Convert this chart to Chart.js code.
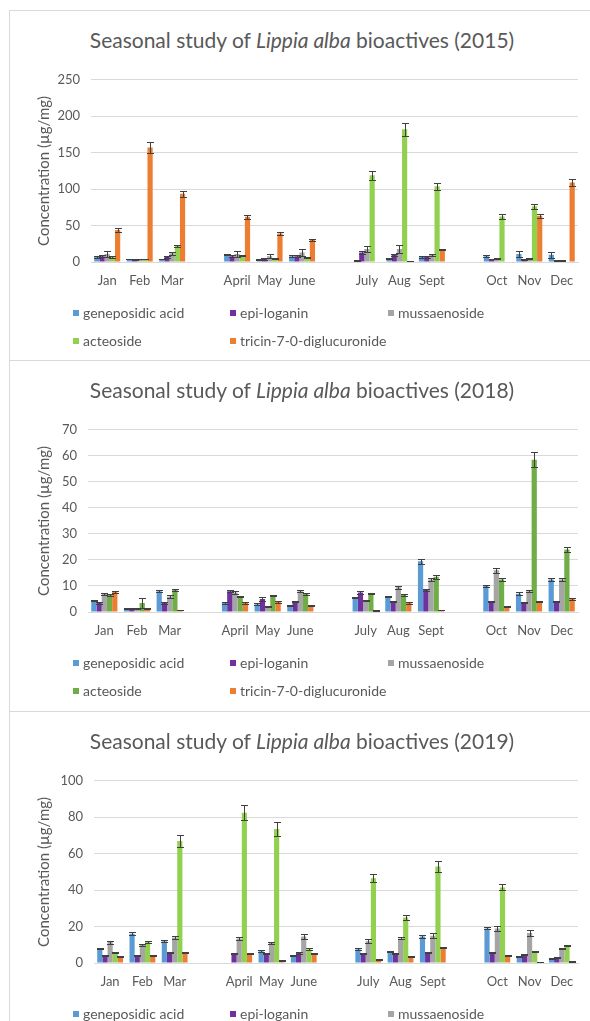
<!DOCTYPE html>
<html>
<head>
<meta charset="utf-8">
<script src="https://cdn.jsdelivr.net/npm/chart.js@4.4.1/dist/chart.umd.min.js"></script>
<style>
  html, body { margin: 0; padding: 0; width: 590px; height: 1021px; overflow: hidden; background: #fff; font-family: Lato, "Open Sans", sans-serif; }
  .panel { position: absolute; left: 9px; width: 640px; height: 350px; border-top: 1px solid #d9d9d9; border-left: 1px solid #d9d9d9; }
  .title { position: absolute; left: 0; top: 16px; width: 584px; text-align: center; font-size: 21px; line-height: 26px; color: #595959; white-space: nowrap; }
  .panel canvas { position: absolute; left: 0; top: 50px; }
  .legend { position: absolute; left: 0; top: 0; width: 580px; height: 350px; }
  .item { position: absolute; font-size: 14px; line-height: 16px; color: #595959; white-space: nowrap; }
  .item span { position: absolute; left: -10px; top: 5px; width: 6px; height: 6px; }
</style>
</head>
<body>
<div class="panel" id="p2015" style="top:10px"></div>
<div class="panel" id="p2018" style="top:360px"></div>
<div class="panel" id="p2019" style="top:711px"></div>
<script>
// Month axis: three months per season, with an empty slot between seasons
const months = ['Jan', 'Feb', 'Mar', 'April', 'May', 'June', 'July', 'Aug', 'Sept', 'Oct', 'Nov', 'Dec'];
const compounds = ['geneposidic acid', 'epi-loganin', 'mussaenoside', 'acteoside', 'tricin-7-0-diglucuronide'];

// 2015 concentrations (µg/mg) and standard deviations
const gen2015 = [7, 4, 4, 10, 3, 8, 2, 5, 7, 8, 11, 10];
const genErr2015 = [1, 0.5, 0.5, 1, 0.5, 1, 0.5, 1, 1, 1, 4, 4];
const epi2015 = [8, 3, 7, 8, 4, 8, 13, 10, 7, 4, 3, 2];
const epiErr2015 = [1.5, 0.5, 1, 1, 1, 1, 2, 1.5, 1, 0.5, 0.5, 0.5];
const mus2015 = [11, 4, 12, 11, 8, 13, 18, 18, 10, 5, 5, 2];
const musErr2015 = [3.5, 0.5, 2, 3.5, 3, 4.5, 4, 5, 1.5, 1, 1, 0.5];
const act2015 = [7, 4, 22, 9, 5, 6, 119, 182, 104, 62.5, 76.5, 0];
const actErr2015 = [1, 0.5, 2, 1, 1, 1, 6, 8.5, 5, 3, 3.5, 0];
const tri2015 = [44, 157, 93.5, 62, 39, 30.5, 0, 1, 17, 0, 63.5, 109];
const triErr2015 = [3, 8, 4.5, 2.5, 1.5, 1, 0, 0.5, 1, 0, 2.5, 5];

// 2018 concentrations (µg/mg) and standard deviations
const gen2018 = [4.5, 1.5, 8, 3.5, 3, 2.5, 5.5, 6, 19.5, 10, 7, 12.5];
const genErr2018 = [0.3, 0.2, 0.4, 0.3, 0.3, 0.3, 0.3, 0.3, 0.9, 0.3, 0.5, 0.4];
const epi2018 = [3.5, 1.5, 3.5, 8, 5, 4, 7.5, 4, 8.5, 4, 3.5, 4];
const epiErr2018 = [0.3, 0.2, 0.3, 0.3, 0.7, 0.3, 0.5, 0.2, 0.4, 0.2, 0.2, 0.2];
const mus2018 = [7, 1.5, 6, 7.5, 2, 8, 4.5, 9.5, 12.5, 16, 8, 12.5];
const musErr2018 = [0.4, 0.2, 0.5, 0.4, 0.2, 0.4, 0.3, 0.5, 0.5, 0.9, 0.4, 0.4];
const act2018 = [6.5, 3.5, 8.5, 6, 6.3, 7, 7, 6.5, 13.5, 12.5, 58.5, 24];
const actErr2018 = [0.4, 2, 0.4, 0.3, 0.3, 0.4, 0.2, 0.3, 0.8, 0.6, 2.9, 0.9];
const tri2018 = [7.8, 1.5, 0.7, 3.5, 3.8, 2.5, 0.5, 3.5, 0.8, 2, 4, 5];
const triErr2018 = [0.4, 0.2, 0.1, 0.3, 0.3, 0.2, 0.1, 0.3, 0.1, 0.2, 0.3, 0.3];

// 2019 concentrations (µg/mg) and standard deviations
const gen2019 = [8, 16, 12, 0, 6.5, 4, 7.5, 6.5, 14.5, 19, 3.5, 2.5];
const genErr2019 = [0.5, 0.8, 0.5, 0, 0.4, 0.3, 0.6, 0.3, 0.7, 0.6, 0.3, 0.3];
const epi2019 = [4.3, 4, 6, 5, 5, 5.5, 5.2, 5, 5.7, 6, 4.9, 2.8];
const epiErr2019 = [0.3, 0.3, 0.3, 0.3, 0.3, 0.3, 0.3, 0.3, 0.3, 0.3, 0.3, 0.3];
const mus2019 = [11.5, 10, 14, 13.5, 11, 14.5, 12, 13.5, 15, 19, 16.5, 8];
const musErr2019 = [0.8, 0.5, 0.8, 0.8, 0.8, 1.2, 1, 0.6, 1.2, 1.2, 1.8, 0.3];
const act2019 = [6, 11.5, 67, 82.5, 73.5, 7.5, 46.5, 25, 53, 41.5, 6.3, 9.5];
const actErr2019 = [0.3, 0.7, 3.2, 4, 3.8, 0.5, 2.3, 1.2, 2.9, 1.7, 0.3, 0.4];
const tri2019 = [3.5, 4, 6, 5.4, 1.5, 5.4, 2, 3.5, 8.7, 4, 0.5, 0.9];
const triErr2019 = [0.3, 0.3, 0.3, 0.3, 0.3, 0.3, 0.3, 0.3, 0.3, 0.3, 0.3, 0.3];

// Y-axis ranges
const yTicks2015 = { max: 250, step: 50 };
const yTicks2018 = { max: 70, step: 10 };
const yTicks2019 = { max: 100, step: 20 };

// Insert an empty slot after every third month
function withGaps(arr, filler) {
  const out = [];
  arr.forEach((v, i) => {
    out.push(v);
    if (i % 3 === 2 && i < arr.length - 1) out.push(filler);
  });
  return out;
}

const slotLabels = withGaps(months, '');
const TEXT = '#595959';
const GRID = '#d9d9d9';
const FONT = 'Lato, "Open Sans", sans-serif';

// Draws symmetric standard-deviation whiskers on each bar
const errorBars = {
  id: 'errorBars',
  afterDatasetsDraw(chart) {
    const { ctx, chartArea } = chart;
    const ys = chart.scales.y;
    ctx.save();
    ctx.beginPath();
    ctx.rect(chartArea.left, chartArea.top - 6, chartArea.right - chartArea.left, chartArea.bottom - chartArea.top + 6);
    ctx.clip();
    ctx.strokeStyle = '#404040';
    ctx.lineWidth = 1;
    chart.data.datasets.forEach((ds, di) => {
      const meta = chart.getDatasetMeta(di);
      meta.data.forEach((bar, i) => {
        const v = ds.data[i];
        const e = ds.errors[i];
        if (v == null || !e) return;
        const x = Math.round(bar.x) + 0.5;
        const yTop = Math.round(ys.getPixelForValue(v + e)) + 0.5;
        const yBot = Math.round(ys.getPixelForValue(v - e)) + 0.5;
        const cap = 3.5;
        ctx.beginPath();
        ctx.moveTo(x, yTop); ctx.lineTo(x, yBot);
        ctx.moveTo(x - cap, yTop); ctx.lineTo(x + cap, yTop);
        ctx.moveTo(x - cap, yBot); ctx.lineTo(x + cap, yBot);
        ctx.stroke();
      });
    });
    ctx.restore();
  }
};

function buildPanel(id, year, series, errors, colors, yTicks, plotLeft) {
  const panel = document.getElementById(id);

  const title = document.createElement('div');
  title.className = 'title';
  title.innerHTML = 'Seasonal study of <i>Lippia alba</i> bioactives (' + year + ')';
  panel.appendChild(title);

  const canvas = document.createElement('canvas');
  canvas.width = 580;
  canvas.height = 240;
  canvas.style.width = '580px';
  canvas.style.height = '240px';
  panel.appendChild(canvas);

  // Legend: three columns, two rows
  const legend = document.createElement('div');
  legend.className = 'legend';
  const cols = [73, 230, 388];
  const rows = [294, 322];
  compounds.forEach((name, i) => {
    const it = document.createElement('div');
    it.className = 'item';
    it.style.left = cols[i % 3] + 'px';
    it.style.top = rows[Math.floor(i / 3)] + 'px';
    const sw = document.createElement('span');
    sw.style.background = colors[i];
    it.appendChild(sw);
    it.appendChild(document.createTextNode(name));
    legend.appendChild(it);
  });
  panel.appendChild(legend);

  new Chart(canvas, {
    type: 'bar',
    data: {
      labels: slotLabels,
      datasets: series.map((s, i) => ({
        label: compounds[i],
        data: withGaps(s, null),
        errors: withGaps(errors[i], null),
        backgroundColor: colors[i],
        borderWidth: 0,
        categoryPercentage: 0.8,
        barPercentage: 1.0
      }))
    },
    options: {
      responsive: false,
      animation: false,
      layout: { padding: { top: 10, right: 12, left: 0, bottom: 0 } },
      plugins: { legend: { display: false }, tooltip: { enabled: false } },
      scales: {
        x: {
          grid: { display: false, drawTicks: false },
          border: { display: true, color: GRID },
          ticks: { autoSkip: false, maxRotation: 0, padding: 11, color: TEXT, font: { family: FONT, size: 13 } },
          afterFit(s) { s.height = 39; }
        },
        y: {
          min: 0,
          max: yTicks.max,
          ticks: { stepSize: yTicks.step, padding: 11, color: TEXT, font: { family: FONT, size: 13 } },
          grid: { color: GRID, drawTicks: false },
          border: { display: false },
          title: { display: true, text: 'Concentration (µg/mg)', color: TEXT, font: { family: FONT, size: 15 }, padding: { top: 25, bottom: 0 } },
          afterFit(s) { s.width = plotLeft - 10; }
        }
      }
    },
    plugins: [errorBars]
  });
}

const baseColors = ['#5b9bd5', '#7030a0', '#a5a5a5'];
buildPanel('p2015', 2015,
  [gen2015, epi2015, mus2015, act2015, tri2015],
  [genErr2015, epiErr2015, musErr2015, actErr2015, triErr2015],
  baseColors.concat(['#92d050', '#ed7d31']), yTicks2015, 91);
buildPanel('p2018', 2018,
  [gen2018, epi2018, mus2018, act2018, tri2018],
  [genErr2018, epiErr2018, musErr2018, actErr2018, triErr2018],
  baseColors.concat(['#70ad47', '#ed7d31']), yTicks2018, 88);
buildPanel('p2019', 2019,
  [gen2019, epi2019, mus2019, act2019, tri2019],
  [genErr2019, epiErr2019, musErr2019, actErr2019, triErr2019],
  baseColors.concat(['#92d050', '#ed7d31']), yTicks2019, 94);
</script>
</body>
</html>
